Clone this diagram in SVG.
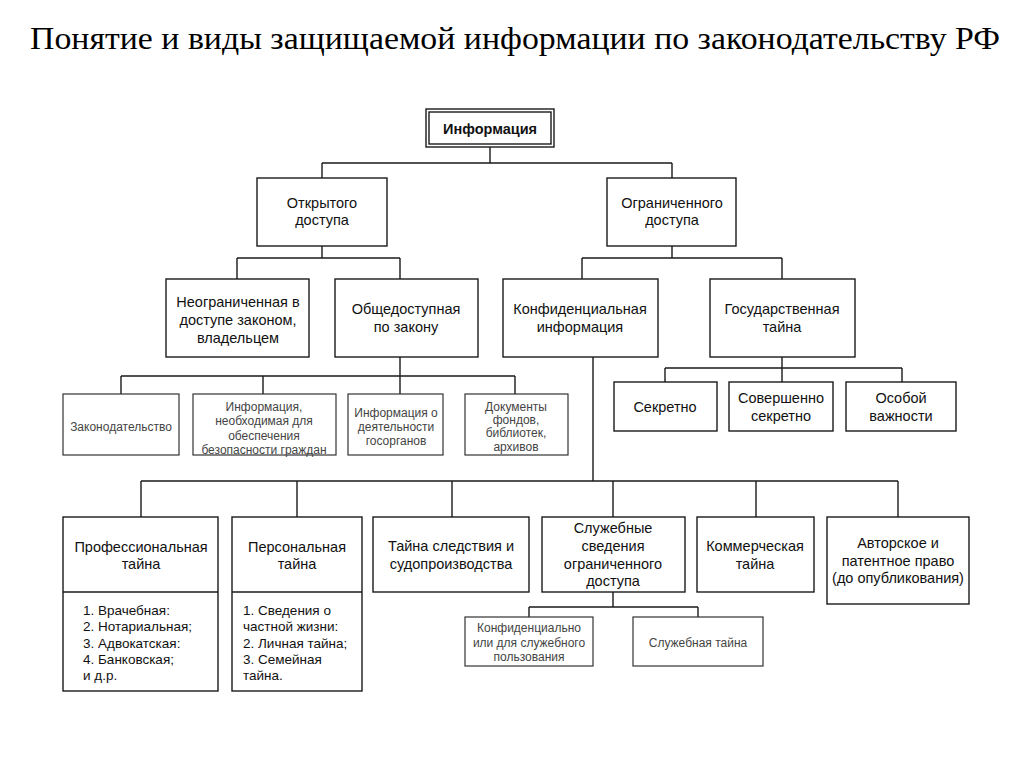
<svg xmlns="http://www.w3.org/2000/svg" width="1024" height="767" viewBox="0 0 1024 767">
<style>
.b{fill:#fff;stroke:#1a1a1a;stroke-width:1.4}
.s{fill:#fff;stroke:#333;stroke-width:1.2}
.t{font-family:"Liberation Sans",Arial,sans-serif;font-size:14.5px;fill:#111;text-anchor:middle}
.sm{font-family:"Liberation Sans",Arial,sans-serif;font-size:12px;fill:#444;text-anchor:middle}
.l{font-family:"Liberation Sans",Arial,sans-serif;font-size:13.5px;fill:#111}
.c{fill:none;stroke:#1a1a1a;stroke-width:1.4}
</style>
<rect width="1024" height="767" fill="#fff"/>
<text x="30" y="49" font-family="'Liberation Serif','Times New Roman',serif" font-size="32" fill="#000" textLength="970" lengthAdjust="spacingAndGlyphs">Понятие и виды защищаемой информации по законодательству РФ</text>

<g id="connectors" class="c">
<path d="M490,147V163M322,163H672M322,163V178M672,163V178"/>
<path d="M322,246V258M237,258H400M237,258V279M400,258V279"/>
<path d="M672,246V258M582,258H782M582,258V279M782,258V279"/>
<path d="M400,357V376M121,376H515M121,376V394M263,376V394M400,376V394M515,376V394"/>
<path d="M782,357V382M665,368H902M665,368V382M902,368V382"/>
<path d="M593,357V481M141,481H898M141,481V517M297,481V517M452,481V517M613,481V517M756,481V517M898,481V517"/>
<path d="M613,592V607M529,607H698M529,607V617M698,607V617"/>
</g>

<g id="info">
<rect class="b" x="426" y="109" width="128" height="38"/>
<rect class="b" x="429" y="112" width="122" height="32"/>
<text class="t" x="490" y="134" font-weight="bold">Информация</text>
</g>
<g id="open">
<rect class="b" x="257" y="178" width="130" height="68"/>
<text class="t" x="322" y="208">Открытого</text>
<text class="t" x="322" y="225">доступа</text>
</g>
<g id="restricted">
<rect class="b" x="607" y="178" width="129" height="68"/>
<text class="t" x="672" y="208">Ограниченного</text>
<text class="t" x="672" y="225">доступа</text>
</g>
<g id="unlimited">
<rect class="b" x="166" y="279" width="143" height="78"/>
<text class="t" x="238" y="307">Неограниченная в</text>
<text class="t" x="238" y="325">доступе законом,</text>
<text class="t" x="238" y="343">владельцем</text>
</g>
<g id="public">
<rect class="b" x="335" y="279" width="143" height="78"/>
<text class="t" x="406" y="314">Общедоступная</text>
<text class="t" x="406" y="332">по закону</text>
</g>
<g id="confidential">
<rect class="b" x="503" y="279" width="155" height="78"/>
<text class="t" x="580" y="314">Конфиденциальная</text>
<text class="t" x="580" y="332">информация</text>
</g>
<g id="state">
<rect class="b" x="710" y="279" width="145" height="78"/>
<text class="t" x="782" y="314">Государственная</text>
<text class="t" x="782" y="332">тайна</text>
</g>

<g id="law">
<rect class="s" x="63" y="394" width="116" height="61"/>
<text class="sm" x="121" y="431">Законодательство</text>
</g>
<g id="safety">
<rect class="s" x="193" y="394" width="143" height="61"/>
<text class="sm" x="264" y="411">Информация,</text>
<text class="sm" x="264" y="425">необходимая для</text>
<text class="sm" x="264" y="440">обеспечения</text>
<text class="sm" x="264" y="454">безопасности граждан</text>
</g>
<g id="gov">
<rect class="s" x="348" y="394" width="95" height="61"/>
<text class="sm" x="396" y="417">Информация о</text>
<text class="sm" x="396" y="431">деятельности</text>
<text class="sm" x="396" y="445">госорганов</text>
</g>
<g id="docs">
<rect class="s" x="465" y="394" width="103" height="61"/>
<text class="sm" x="516" y="411">Документы</text>
<text class="sm" x="516" y="424">фондов,</text>
<text class="sm" x="516" y="437">библиотек,</text>
<text class="sm" x="516" y="451">архивов</text>
</g>

<g id="secret">
<rect class="b" x="614" y="382" width="103" height="49"/>
<text class="t" x="665" y="412">Секретно</text>
</g>
<g id="topsecret">
<rect class="b" x="729" y="382" width="104" height="49"/>
<text class="t" x="781" y="403">Совершенно</text>
<text class="t" x="781" y="421">секретно</text>
</g>
<g id="special">
<rect class="b" x="846" y="382" width="110" height="49"/>
<text class="t" x="901" y="403">Особой</text>
<text class="t" x="901" y="421">важности</text>
</g>

<g id="professional">
<rect class="b" x="63" y="517" width="155" height="174"/>
<path class="c" d="M63,592H218"/>
<text class="t" x="141" y="552">Профессиональная</text>
<text class="t" x="141" y="569">тайна</text>
<text class="l" x="83" y="615">1. Врачебная:</text>
<text class="l" x="83" y="631">2. Нотариальная;</text>
<text class="l" x="83" y="648">3. Адвокатская:</text>
<text class="l" x="83" y="664">4. Банковская;</text>
<text class="l" x="83" y="680">и д.р.</text>
</g>
<g id="personal">
<rect class="b" x="232" y="517" width="130" height="174"/>
<path class="c" d="M232,592H362"/>
<text class="t" x="297" y="552">Персональная</text>
<text class="t" x="297" y="569">тайна</text>
<text class="l" x="243" y="615">1. Сведения о</text>
<text class="l" x="243" y="631">частной жизни:</text>
<text class="l" x="243" y="648">2. Личная тайна;</text>
<text class="l" x="243" y="664">3. Семейная</text>
<text class="l" x="243" y="680">тайна.</text>
</g>
<g id="investigation">
<rect class="b" x="373" y="517" width="156" height="75"/>
<text class="t" x="451" y="551">Тайна следствия и</text>
<text class="t" x="451" y="569">судопроизводства</text>
</g>
<g id="official">
<rect class="b" x="542" y="517" width="143" height="75"/>
<text class="t" x="613" y="533">Служебные</text>
<text class="t" x="613" y="551">сведения</text>
<text class="t" x="613" y="569">ограниченного</text>
<text class="t" x="613" y="586">доступа</text>
</g>
<g id="commercial">
<rect class="b" x="697" y="517" width="117" height="75"/>
<text class="t" x="755" y="551">Коммерческая</text>
<text class="t" x="755" y="569">тайна</text>
</g>
<g id="copyright">
<rect class="b" x="827" y="517" width="142" height="87"/>
<text class="t" x="898" y="548">Авторское и</text>
<text class="t" x="898" y="566">патентное право</text>
<text class="t" x="898" y="583">(до опубликования)</text>
</g>
<g id="dsp">
<rect class="s" x="465" y="617" width="128" height="49"/>
<text class="sm" x="529" y="632">Конфиденциально</text>
<text class="sm" x="529" y="647">или для служебного</text>
<text class="sm" x="529" y="661">пользования</text>
</g>
<g id="officialsecret">
<rect class="s" x="633" y="617" width="130" height="49"/>
<text class="sm" x="698" y="647">Служебная тайна</text>
</g>
</svg>
